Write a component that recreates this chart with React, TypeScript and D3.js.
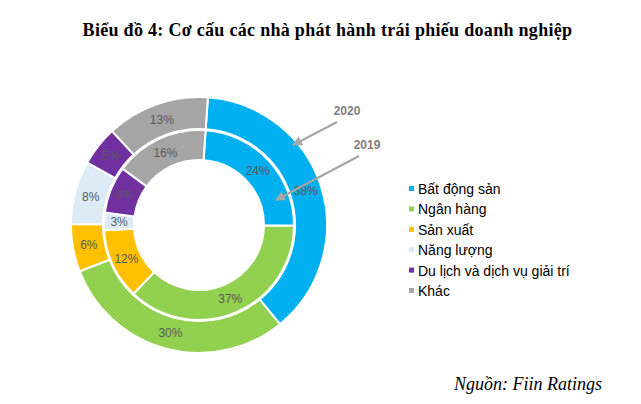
import React from "react";
import * as d3 from "d3";

const categories = ["Bất động sản", "Ngân hàng", "Sản xuất", "Năng lượng", "Du lịch và dịch vụ giải trí", "Khác"];
const values2020 = [38, 30, 6, 8, 5, 13];
const values2019 = [24, 37, 12, 3, 8, 16];
const colors = ["#00B0F0", "#92D050", "#FFC000", "#DDEBF7", "#7030A0", "#A5A5A5"];

const W = 641, H = 404;
const cx = 199, cy = 225;
const start = (4 * Math.PI) / 180;

export default function App() {
  const pie = d3.pie<number>().sort(null).startAngle(start).endAngle(start + 2 * Math.PI);
  const outerArcs = pie(values2020);
  const innerArcs = pie(values2019);
  const outerArc = d3.arc<d3.PieArcDatum<number>>().innerRadius(96).outerRadius(128);
  const innerArc = d3.arc<d3.PieArcDatum<number>>().innerRadius(65).outerRadius(95);
  const legendY = d3.scaleLinear().domain([0, categories.length - 1]).range([189, 291]);

  return (
    <svg width={W} height={H} style={{ position: "absolute", left: 0, top: 0, background: "#fff" }}>
      <defs>
        <marker id="ah" viewBox="0 0 10 10" refX="9" refY="5" markerWidth="5" markerHeight="5" orient="auto">
          <path d="M0,0 L10,5 L0,10 z" fill="#A6A6A6" />
        </marker>
      </defs>
      <text x={327.5} y={36} textAnchor="middle" fontFamily="Liberation Serif, serif" fontWeight="bold" fontSize={18} letterSpacing={0.3} fill="#000">
        Biểu đồ 4: Cơ cấu các nhà phát hành trái phiếu doanh nghiệp
      </text>
      <g transform={`translate(${cx},${cy})`}>
        {outerArcs.map((a, i) => (
          <path key={"o" + i} d={outerArc(a) || ""} fill={colors[i]} stroke="#fff" strokeWidth={2} />
        ))}
        {innerArcs.map((a, i) => (
          <path key={"i" + i} d={innerArc(a) || ""} fill={colors[i]} stroke="#fff" strokeWidth={2} />
        ))}
        {outerArcs.map((a, i) => {
          const [x, y] = outerArc.centroid(a);
          return (
            <text key={"ol" + i} x={x} y={y} dy="0.35em" textAnchor="middle" fontFamily="Liberation Sans, Arial, sans-serif" fontSize={12} fill="#595959">
              {values2020[i]}%
            </text>
          );
        })}
        {innerArcs.map((a, i) => {
          const [x, y] = innerArc.centroid(a);
          return (
            <text key={"il" + i} x={x} y={y} dy="0.35em" textAnchor="middle" fontFamily="Liberation Sans, Arial, sans-serif" fontSize={12} fill="#595959">
              {values2019[i]}%
            </text>
          );
        })}
      </g>
      <line x1={337} y1={122} x2={293} y2={145} stroke="#A6A6A6" strokeWidth={2} markerEnd="url(#ah)" />
      <line x1={359} y1={156} x2={276} y2={200} stroke="#A6A6A6" strokeWidth={2} markerEnd="url(#ah)" />
      <text x={347} y={115} textAnchor="middle" fontFamily="Liberation Sans, Arial, sans-serif" fontWeight="bold" fontSize={12} fill="#7F7F7F">2020</text>
      <text x={367} y={149} textAnchor="middle" fontFamily="Liberation Sans, Arial, sans-serif" fontWeight="bold" fontSize={12} fill="#7F7F7F">2019</text>
      {categories.map((c, i) => (
        <g key={"lg" + i} transform={`translate(409,${legendY(i)})`}>
          <rect x={0} y={-3} width={5} height={5} fill={colors[i]} />
          <text x={9} y={0} dy="0.35em" fontFamily="Liberation Sans, Arial, sans-serif" fontSize={14} fill="#000">{c}</text>
        </g>
      ))}
      <text x={602} y={390} textAnchor="end" fontFamily="Liberation Serif, serif" fontStyle="italic" fontSize={18} fill="#000">
        Nguồn: Fiin Ratings
      </text>
    </svg>
  );
}
